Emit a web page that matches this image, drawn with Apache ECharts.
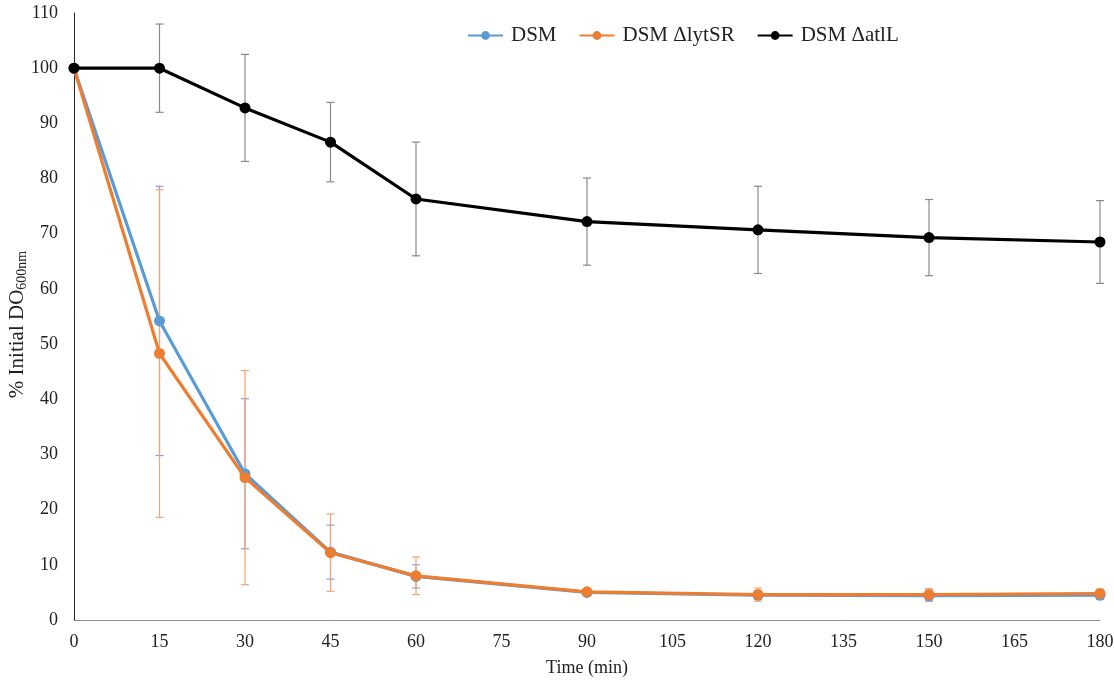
<!DOCTYPE html>
<html>
<head>
<meta charset="utf-8">
<script src="https://cdn.jsdelivr.net/npm/echarts@6/dist/echarts.min.js"></script>
<style>html,body{margin:0;padding:0;background:#fff}#c{width:1114px;height:684px}</style>
</head>
<body>
<div id="c"></div>
<script>
const times = [0, 15, 30, 45, 60, 90, 120, 150, 180];
const dsm = [100, 54.2, 26.5, 12.3, 7.9, 5.0, 4.5, 4.4, 4.5];
const dsmErr = [0, 24.4, 13.6, 4.9, 2.1, 0.5, 0.8, 1.0, 0.8];
const lyt = [100, 48.3, 25.8, 12.2, 8.0, 5.1, 4.6, 4.6, 4.8];
const lytErr = [0, 29.7, 19.4, 7.0, 3.4, 0.5, 1.2, 1.1, 0.8];
const atl = [100, 100, 92.8, 86.6, 76.3, 72.2, 70.7, 69.3, 68.5];
const atlErr = [0, 8.0, 9.7, 7.2, 10.3, 7.9, 7.9, 6.9, 7.5];
const seriesNames = ['DSM', 'DSM ΔlytSR', 'DSM ΔatlL'];
const xTicks = {min: 0, max: 180, interval: 15};
const yTicks = {min: 0, max: 110, interval: 10};

const FONT = '"Liberation Serif", "Times New Roman", serif';

function errSeries(vals, errs, color, z) {
  return {
    type: 'custom',
    silent: true,
    z: z,
    data: times.map((t, i) => [t, vals[i] - errs[i], vals[i] + errs[i]]),
    renderItem: function (params, api) {
      const x = api.value(0);
      const lo = api.coord([x, api.value(1)]);
      const hi = api.coord([x, api.value(2)]);
      const hw = 4;
      const st = {stroke: color, lineWidth: 1.2};
      return {
        type: 'group',
        children: [
          {type: 'line', shape: {x1: lo[0], y1: lo[1], x2: hi[0], y2: hi[1]}, style: st},
          {type: 'line', shape: {x1: lo[0] - hw, y1: lo[1], x2: lo[0] + hw, y2: lo[1]}, style: st},
          {type: 'line', shape: {x1: hi[0] - hw, y1: hi[1], x2: hi[0] + hw, y2: hi[1]}, style: st}
        ]
      };
    }
  };
}

function lineSeries(name, vals, color, z) {
  return {
    name: name,
    type: 'line',
    z: z,
    data: times.map((t, i) => [t, vals[i]]),
    symbol: 'circle',
    symbolSize: 11,
    showAllSymbol: true,
    lineStyle: {color: color, width: 3.2},
    itemStyle: {color: color},
    emphasis: {disabled: true},
    animation: false
  };
}

const chart = echarts.init(document.getElementById('c'));
chart.setOption({
  animation: false,
  backgroundColor: '#fff',
  textStyle: {fontFamily: FONT},
  grid: {left: 74, right: 14, top: 13, bottom: 64, containLabel: false, outerBoundsMode: 'none'},
  legend: {
    data: seriesNames,
    top: 20,
    left: 462,
    itemGap: 22,
    itemWidth: 35,
    itemHeight: 11,
    textStyle: {fontFamily: FONT, fontSize: 21, color: '#222', padding: [0, 0, 0, 3]}
  },
  xAxis: {
    type: 'value',
    min: xTicks.min, max: xTicks.max, interval: xTicks.interval,
    name: 'Time (min)',
    nameLocation: 'middle',
    nameGap: 39,
    nameTextStyle: {fontFamily: FONT, fontSize: 18, color: '#222'},
    axisLine: {show: true, lineStyle: {color: '#8c8c8c', width: 1}},
    axisTick: {show: false},
    splitLine: {show: false},
    axisLabel: {fontFamily: FONT, fontSize: 18, color: '#222', margin: 13}
  },
  yAxis: {
    type: 'value',
    min: yTicks.min, max: yTicks.max, interval: yTicks.interval,
    name: '{a|% Initial DO}{s|600nm}',
    nameLocation: 'middle',
    nameRotate: 90,
    nameGap: 45,
    nameMoveOverlap: false,
    nameTextStyle: {
      padding: [0, 16, 0, 0],
      rich: {
        a: {fontFamily: FONT, fontSize: 21, color: '#222'},
        s: {fontFamily: FONT, fontSize: 14, color: '#222', padding: [10, 0, 0, 0]}
      }
    },
    axisLine: {show: true, lineStyle: {color: '#222', width: 1}},
    axisTick: {show: false},
    splitLine: {show: false},
    axisLabel: {fontFamily: FONT, fontSize: 18, color: '#222', margin: 16}
  },
  series: [
    errSeries(atl, atlErr, '#8a8a8a', 1),
    errSeries(dsm, dsmErr, '#8a9fd8', 1),
    errSeries(lyt, lytErr, '#f4a470', 1),
    lineSeries(seriesNames[0], dsm, '#5b9bd5', 3),
    lineSeries(seriesNames[1], lyt, '#ed7d31', 4),
    lineSeries(seriesNames[2], atl, '#000000', 5)
  ]
});
</script>
</body>
</html>
